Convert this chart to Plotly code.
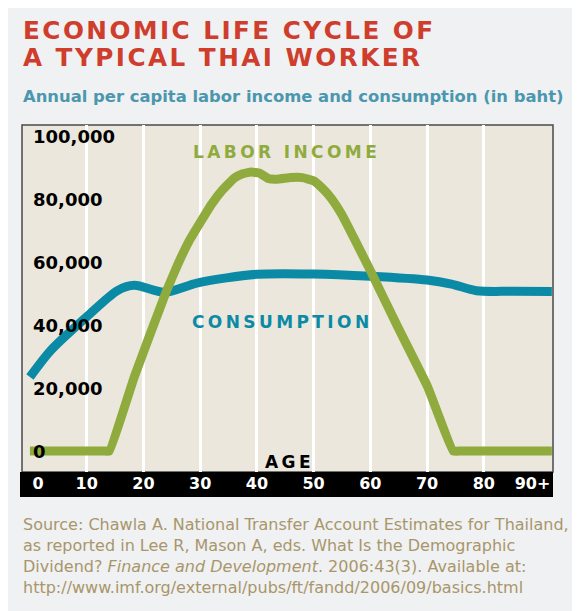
import plotly.graph_objects as go

# ---------------- data ----------------
ages_income = [0, 7, 13, 14, 18.4, 24, 26, 28, 30, 32, 34, 36, 37.5, 39, 40.5, 42, 43.5,
               46, 48, 50, 51.5, 53, 55, 57, 60, 64.8, 70.1, 74.6, 76, 84, 92]
labor_income = [0, 0, 0, 0, 23600, 50500, 59000, 66500, 72500, 78300, 83000, 86600,
                88000, 88600, 88200, 86500, 86300, 86800, 86800, 85800, 83500, 80500,
                75000, 68000, 57300, 39500, 20400, 0, 0, 0, 0]

ages_consumption = [0, 3.7, 10, 15.5, 18.4, 23.7, 29.6, 40, 50, 60, 70, 74.3, 78.7, 85, 92]
consumption = [23500, 32000, 42600, 51000, 52600, 50400, 53400, 56100, 56200, 55500,
               54300, 53000, 50900, 50700, 50600]

age_ticks = [0, 10, 20, 30, 40, 50, 60, 70, 80, 90]
age_labels = ["\u20030", "10", "20", "30", "40", "50", "60", "70", "80", "90+\u2003"]
grid_ages = [10, 20, 30, 40, 50, 60, 70, 80]
value_ticks = [0, 20000, 40000, 60000, 80000, 100000]

title_lines = ["ECONOMIC LIFE CYCLE OF", "A TYPICAL THAI WORKER"]
subtitle = "Annual per capita labor income and consumption (in baht)"
source_lines = [
    "Source: Chawla A. National Transfer Account Estimates for Thailand,",
    "as reported in Lee R, Mason A, eds. What Is the Demographic",
    "Dividend? <i>Finance and Development</i>. 2006:43(3). Available at:",
    "http://www.imf.org/external/pubs/ft/fandd/2006/09/basics.html",
]

# ---------------- layout helpers ----------------
OFF = 8                      # page body margin
W, H = 580 - OFF, 611 - OFF  # figure size
# plot-area box in page pixels
L, R, T, B = 22, 553, 125, 472


def px(xp):
    return (xp - L) / (R - L)


def py(yp):
    return (B - yp) / (B - T)


def track(s, sep="\u200a"):
    return sep.join(s)


FONT = "DejaVu Sans"
GREEN = "#8fab3d"
BLUE = "#0b8aa6"
RED = "#cf3d2d"
SUB = "#4b97ad"
TAN = "#a8966a"
PANEL = "#f0f1f3"
BEIGE = "#ebe7dd"

fig = go.Figure()
fig.add_trace(go.Scatter(x=ages_consumption, y=consumption, mode="lines",
                         line=dict(color=BLUE, width=9, shape="spline", smoothing=0.8),
                         hoverinfo="skip", showlegend=False))
fig.add_trace(go.Scatter(x=ages_income, y=labor_income, mode="lines",
                         line=dict(color=GREEN, width=9, shape="spline", smoothing=0.3),
                         hoverinfo="skip", showlegend=False))

shapes = [
    dict(type="rect", xref="paper", yref="paper", x0=0, x1=1, y0=0, y1=1,
         fillcolor=BEIGE, line=dict(color="#4a4a4a", width=1.5), layer="below"),
    dict(type="rect", xref="paper", yref="paper", x0=px(20), x1=1, y0=py(497), y1=0,
         fillcolor="black", line=dict(width=0), layer="below"),
]

annotations = []
for i, line in enumerate(title_lines):
    annotations.append(dict(text=track(line), xref="paper", yref="paper", x=px(21),
                            y=py(30 + 28 * i), xanchor="left", yanchor="middle",
                            showarrow=False,
                            font=dict(family=FONT, size=24.7, color=RED, weight="bold")))
annotations.append(dict(text=subtitle, xref="paper", yref="paper", x=px(21), y=py(97),
                        xanchor="left", yanchor="middle", showarrow=False,
                        font=dict(family=FONT, size=16.4, color=SUB, weight="bold")))
for i, line in enumerate(source_lines):
    annotations.append(dict(text=line, xref="paper", yref="paper", x=px(21), y=py(524 + 21 * i),
                            xanchor="left", yanchor="middle", showarrow=False,
                            font=dict(family=FONT, size=16, color=TAN)))
annotations.append(dict(text=track("LABOR INCOME", "\u2009"), xref="paper", yref="paper",
                        x=px(285), y=py(152), xanchor="center", yanchor="middle", showarrow=False,
                        font=dict(family=FONT, size=17, color=GREEN, weight="bold")))
annotations.append(dict(text=track("CONSUMPTION", "\u2009"), xref="paper", yref="paper",
                        x=px(280), y=py(322), xanchor="center", yanchor="middle", showarrow=False,
                        font=dict(family=FONT, size=17, color=BLUE, weight="bold")))
annotations.append(dict(text=track("AGE", "\u2009"), xref="paper", yref="paper",
                        x=px(288), y=py(462), xanchor="center", yanchor="middle", showarrow=False,
                        font=dict(family=FONT, size=17, color="black", weight="bold")))
# y-axis tick labels, drawn inside the plot area
for v in value_ticks:
    annotations.append(dict(text=f"{v:,}", xref="paper", yref="y", x=px(31), y=v,
                            xanchor="left", yanchor="middle", showarrow=False,
                            font=dict(family=FONT, size=18, color="black", weight="bold")))

fig.update_layout(
    width=W, height=H,
    margin=dict(l=L - OFF, r=W - (R - OFF), t=T - OFF, b=H - (B - OFF), pad=0,
                autoexpand=False),
    paper_bgcolor=PANEL, plot_bgcolor="rgba(0,0,0,0)",
    shapes=shapes, annotations=annotations, showlegend=False,
    xaxis=dict(range=[-1.4, 92.2], tickmode="array", tickvals=age_ticks, ticktext=age_labels,
               showgrid=False, zeroline=False, showline=False, ticks="", automargin=False,
               tickfont=dict(family=FONT, size=16, color="white", weight="bold"),
               minor=dict(tickmode="array", tickvals=grid_ages, showgrid=True,
                          gridcolor="white", gridwidth=3, ticks=""),
               fixedrange=True),
    yaxis=dict(range=[-6667, 103500], showticklabels=False, ticks="", showgrid=False,
               zeroline=False, showline=False, fixedrange=True, automargin=False),
)

fig.write_html("out.html")
